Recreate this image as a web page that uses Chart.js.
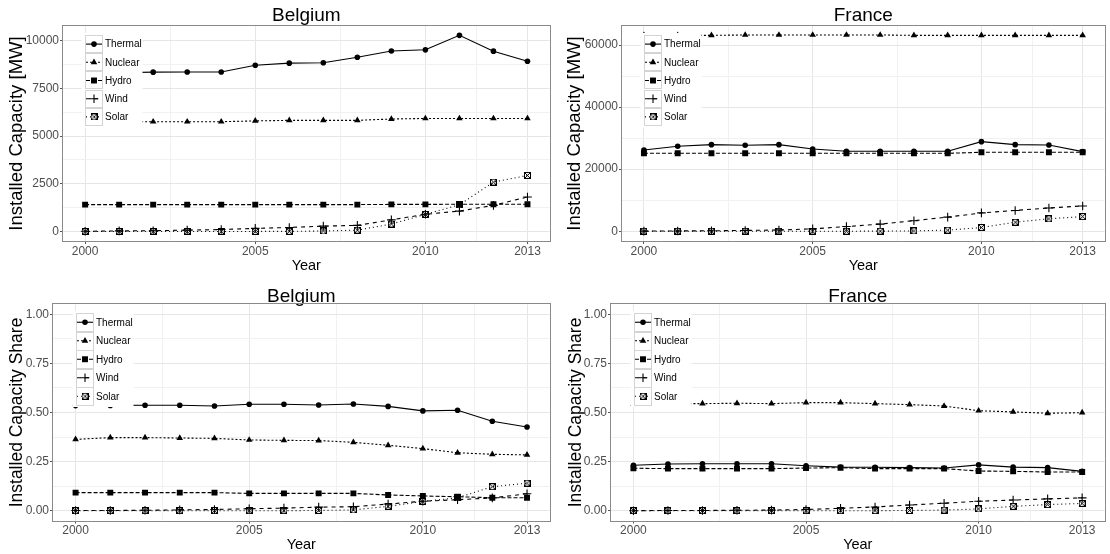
<!DOCTYPE html>
<html>
<head>
<meta charset="utf-8">
<script src="https://cdn.jsdelivr.net/npm/chart.js@4.4.1/dist/chart.umd.min.js"></script>
<style>
  html, body { margin: 0; padding: 0; background: #ffffff; }
  #wrap { position: relative; width: 1110px; height: 554px; overflow: hidden; background: #ffffff; }
  #wrap canvas { position: absolute; }
</style>
</head>
<body>
<div id="wrap">
  <canvas id="beCap" width="555" height="277" style="left:0px;top:0px"></canvas>
  <canvas id="frCap" width="555" height="277" style="left:555px;top:0px"></canvas>
  <canvas id="beShare" width="555" height="277" style="left:0px;top:277px"></canvas>
  <canvas id="frShare" width="555" height="277" style="left:555px;top:277px"></canvas>
</div>
<script>
// ---- data -------------------------------------------------------------
const years = [2000, 2001, 2002, 2003, 2004, 2005, 2006, 2007, 2008, 2009, 2010, 2011, 2012, 2013];
const sources = ['Thermal', 'Nuclear', 'Hydro', 'Wind', 'Solar'];

const yearTicks = [2000, 2005, 2010, 2013];
const yearMinorTicks = [2002.5, 2007.5, 2011.5];

// Belgium, installed capacity [MW]
const beThermal = [8300, 8330, 8360, 8370, 8370, 8720, 8830, 8850, 9140, 9470, 9530, 10290, 9460, 8930];
const beNuclear = [5760, 5760, 5760, 5760, 5760, 5800, 5830, 5830, 5830, 5900, 5930, 5930, 5930, 5930];
const beHydro   = [1410, 1410, 1410, 1410, 1410, 1410, 1410, 1410, 1410, 1420, 1420, 1430, 1430, 1430];
const beWind    = [10, 30, 40, 70, 100, 160, 210, 280, 320, 610, 900, 1070, 1370, 1810];
const beSolar   = [0, 0, 0, 0, 0, 2, 5, 25, 70, 390, 900, 1400, 2590, 2940];

// France, installed capacity [MW]
const frThermal = [26190, 27370, 27900, 27690, 27900, 26510, 25760, 25760, 25760, 25760, 28870, 27900, 27800, 25650];
const frNuclear = [63130, 63130, 63130, 63260, 63260, 63260, 63260, 63260, 63130, 63130, 63130, 63130, 63130, 63130];
const frHydro   = [25110, 25110, 25110, 25110, 25110, 25110, 25110, 25110, 25110, 25110, 25440, 25440, 25440, 25440];
const frWind    = [40, 90, 150, 250, 390, 760, 1500, 2300, 3400, 4550, 5900, 6700, 7500, 8150];
const frSolar   = [0, 0, 0, 0, 0, 0, 10, 30, 100, 350, 1200, 2900, 4000, 4720];

// Belgium, share of installed capacity
const beThermalShare = [0.535, 0.536, 0.537, 0.537, 0.533, 0.542, 0.542, 0.538, 0.543, 0.531, 0.508, 0.511, 0.455, 0.426];
const beNuclearShare = [0.363, 0.372, 0.372, 0.370, 0.368, 0.360, 0.358, 0.357, 0.348, 0.333, 0.316, 0.295, 0.287, 0.284];
const beHydroShare   = [0.092, 0.092, 0.092, 0.092, 0.092, 0.088, 0.088, 0.088, 0.088, 0.080, 0.075, 0.071, 0.066, 0.066];
const beWindShare    = [0.001, 0.001, 0.002, 0.004, 0.006, 0.010, 0.013, 0.018, 0.020, 0.034, 0.048, 0.056, 0.065, 0.086];
const beSolarShare   = [0, 0, 0, 0, 0, 0, 0, 0.001, 0.004, 0.022, 0.047, 0.066, 0.122, 0.140];

// France, share of installed capacity
const frThermalShare = [0.231, 0.238, 0.239, 0.239, 0.239, 0.229, 0.222, 0.221, 0.219, 0.217, 0.233, 0.222, 0.219, 0.200];
const frNuclearShare = [0.543, 0.545, 0.545, 0.547, 0.545, 0.550, 0.550, 0.545, 0.540, 0.533, 0.509, 0.503, 0.496, 0.499];
const frHydroShare   = [0.216, 0.214, 0.214, 0.214, 0.214, 0.217, 0.219, 0.214, 0.214, 0.214, 0.202, 0.200, 0.197, 0.197];
const frWindShare    = [0.000, 0.001, 0.001, 0.002, 0.003, 0.006, 0.012, 0.019, 0.029, 0.038, 0.048, 0.054, 0.060, 0.065];
const frSolarShare   = [0, 0, 0, 0, 0, 0, 0, 0, 0.001, 0.003, 0.009, 0.022, 0.031, 0.037];

// axis breaks
const beCapTicks = [0, 2500, 5000, 7500, 10000];
const beCapMinorTicks = [1250, 3750, 6250, 8750];
const frCapTicks = [0, 20000, 40000, 60000];
const frCapMinorTicks = [10000, 30000, 50000];
const shareTicks = [0, 0.25, 0.5, 0.75, 1];
const shareMinorTicks = [0.125, 0.375, 0.625, 0.875];

// ---- styling ----------------------------------------------------------
const FONT = "'Liberation Sans', Arial, Helvetica, sans-serif";
Chart.defaults.font.family = FONT;

const lineDash = [[], [2, 2], [4, 2], [4, 4], [1, 3]];

function boxCross(size) {
  const c = document.createElement('canvas');
  c.width = size; c.height = size;
  const g = c.getContext('2d');
  g.strokeStyle = '#000';
  g.lineWidth = 1;
  g.strokeRect(0.5, 0.5, size - 1, size - 1);
  g.beginPath();
  g.moveTo(0.5, 0.5); g.lineTo(size - 0.5, size - 0.5);
  g.moveTo(size - 0.5, 0.5); g.lineTo(0.5, size - 0.5);
  g.stroke();
  return c;
}
const solarMark = boxCross(7);
const markerStyle = ['circle', 'triangle', 'rect', 'cross', solarMark];
const markerRadius = [2.8, 3.8, 4.2, 4.3, 3.5];
const markerBorder = [0, 0, 0, 1.1, 0];

function drawMarker(ctx, i, x, y) {
  const r = markerRadius[i];
  ctx.save();
  ctx.setLineDash([]);
  ctx.fillStyle = '#000';
  ctx.strokeStyle = '#000';
  ctx.lineWidth = 1.1;
  ctx.beginPath();
  if (i === 0) {
    ctx.arc(x, y, r, 0, Math.PI * 2);
    ctx.fill();
  } else if (i === 1) {
    for (let k = 0; k < 3; k++) {
      const a = k * 2 * Math.PI / 3;
      const px = x + Math.sin(a) * r, py = y - Math.cos(a) * r;
      if (k === 0) ctx.moveTo(px, py); else ctx.lineTo(px, py);
    }
    ctx.closePath();
    ctx.fill();
  } else if (i === 2) {
    const s = r * Math.SQRT1_2;
    ctx.rect(x - s, y - s, 2 * s, 2 * s);
    ctx.fill();
  } else if (i === 3) {
    ctx.moveTo(x - r, y); ctx.lineTo(x + r, y);
    ctx.moveTo(x, y - r); ctx.lineTo(x, y + r);
    ctx.stroke();
  } else {
    ctx.drawImage(solarMark, x - solarMark.width / 2, y - solarMark.height / 2);
  }
  ctx.restore();
}

// in-panel legend box plus the panel frame
const panelDecor = {
  id: 'panelDecor',
  afterDatasetsDraw(chart, args, opts) {
    const ctx = chart.ctx;
    const a = chart.chartArea;
    const kx = Math.round(a.left + 0.046 * (a.right - a.left));
    const ky = Math.round(a.top + 9);
    const rowH = opts.rowH, keyW = 18;
    ctx.save();
    ctx.fillStyle = '#ffffff';
    ctx.fillRect(kx - 3.5, ky - 2, 61, 5 * rowH + 3.5);
    ctx.font = '10px ' + FONT;
    ctx.textBaseline = 'middle';
    ctx.textAlign = 'left';
    sources.forEach((name, i) => {
      const y0 = ky + i * rowH;
      const cy = y0 + rowH / 2;
      ctx.strokeStyle = '#d4d4d4';
      ctx.lineWidth = 1;
      ctx.setLineDash([]);
      ctx.strokeRect(kx + 0.5, Math.round(y0) + 0.5, keyW - 1, Math.round(rowH) - 1);
      ctx.strokeStyle = '#000';
      ctx.lineWidth = 1.1;
      ctx.setLineDash(lineDash[i]);
      ctx.beginPath();
      ctx.moveTo(kx + 1, cy);
      ctx.lineTo(kx + keyW - 1, cy);
      ctx.stroke();
      drawMarker(ctx, i, kx + keyW / 2, cy);
      ctx.fillStyle = '#000';
      ctx.fillText(name, kx + keyW + 2, cy + 0.5);
    });
    ctx.setLineDash([]);
    ctx.strokeStyle = '#8a8a8a';
    ctx.lineWidth = 1;
    ctx.strokeRect(Math.round(a.left) - 0.5, Math.round(a.top) - 0.5,
                   Math.round(a.right) - Math.round(a.left) + 1, Math.round(a.bottom) - Math.round(a.top) + 1);
    ctx.restore();
  }
};

function gridOpts(minor) {
  const isMinor = (c) => c.tick && minor.some(m => Math.abs(m - c.tick.value) < 1e-9);
  return {
    color: (c) => isMinor(c) ? '#f1f1f1' : '#e6e6e6',
    lineWidth: 1,
    tickLength: 3,
    tickColor: (c) => isMinor(c) ? 'rgba(0,0,0,0)' : '#555555',
    drawTicks: true
  };
}

function makePanel(p) {
  const series = p.series;
  const datasets = sources.map((name, i) => ({
    label: name,
    data: years.map((yr, j) => ({ x: yr, y: series[i][j] })),
    borderColor: '#000',
    backgroundColor: '#000',
    borderWidth: 1.1,
    borderDash: lineDash[i],
    pointStyle: markerStyle[i],
    pointRadius: markerRadius[i],
    pointBorderWidth: markerBorder[i],
    pointBackgroundColor: '#000',
    pointBorderColor: '#000',
    tension: 0,
    fill: false
  }));
  const xAll = yearTicks.concat(yearMinorTicks).sort((a, b) => a - b);
  const yAll = p.yTicks.concat(p.yMinor).sort((a, b) => a - b);
  return new Chart(document.getElementById(p.id), {
    type: 'line',
    data: { datasets },
    options: {
      responsive: false,
      animation: false,
      devicePixelRatio: 1,
      events: [],
      layout: { padding: { left: 0, right: p.padRight, top: 0, bottom: 0 } },
      plugins: {
        legend: { display: false },
        tooltip: { enabled: false },
        panelDecor: { rowH: p.legendRowH },
        title: {
          display: true,
          fullSize: false,
          text: p.title,
          color: '#000',
          font: { size: 19, weight: 'normal', lineHeight: p.titleLH },
          padding: p.titlePad
        }
      },
      scales: {
        x: {
          type: 'linear',
          min: 1999.35,
          max: 2013.65,
          afterBuildTicks: (s) => { s.ticks = xAll.map(v => ({ value: v })); },
          afterFit: (s) => { s.height = p.xAxisH; },
          ticks: {
            autoSkip: false,
            maxRotation: 0,
            padding: 1.5,
            color: '#4d4d4d',
            font: { size: 12, lineHeight: 1 },
            callback: (v) => yearTicks.includes(v) ? String(v) : ''
          },
          grid: gridOpts(yearMinorTicks),
          border: { display: false },
          title: {
            display: true,
            text: 'Year',
            color: '#000',
            font: { size: 14.5, lineHeight: 1.2 },
            padding: { top: 0, bottom: p.xTitlePad }
          }
        },
        y: {
          type: 'linear',
          min: p.yMin,
          max: p.yMax,
          afterBuildTicks: (s) => { s.ticks = yAll.map(v => ({ value: v })); },
          afterFit: (s) => { s.width = p.yAxisW; },
          ticks: {
            autoSkip: false,
            padding: 1,
            color: '#4d4d4d',
            font: { size: 12, lineHeight: 1 },
            callback: (v) => p.yTicks.some(t => Math.abs(t - v) < 1e-9) ? p.fmt(v) : ''
          },
          grid: gridOpts(p.yMinor),
          border: { display: false },
          title: {
            display: true,
            text: p.yTitle,
            color: '#000',
            font: { size: p.yTitleSize, lineHeight: 1.2 },
            padding: { top: p.yTitlePad, bottom: 0 }
          }
        }
      }
    },
    plugins: [panelDecor]
  });
}

const intFmt = (v) => String(Math.round(v));
const shareFmt = (v) => v.toFixed(2);

makePanel({
  id: 'beCap', title: 'Belgium', yTitle: 'Installed Capacity [MW]',
  series: [beThermal, beNuclear, beHydro, beWind, beSolar],
  yMin: -500, yMax: 10780, yTicks: beCapTicks, yMinor: beCapMinorTicks, fmt: intFmt,
  yAxisW: 63, padRight: 4, xAxisH: 36, titleLH: 1, titlePad: { top: 6.5, bottom: 0.5 },
  xTitlePad: 2.5, yTitleSize: 18.5, yTitlePad: 5.9, legendRowH: 18.2
});
makePanel({
  id: 'frCap', title: 'France', yTitle: 'Installed Capacity [MW]',
  series: [frThermal, frNuclear, frHydro, frWind, frSolar],
  yMin: -3150, yMax: 66150, yTicks: frCapTicks, yMinor: frCapMinorTicks, fmt: intFmt,
  yAxisW: 67, padRight: 1, xAxisH: 36, titleLH: 1, titlePad: { top: 6.5, bottom: 0.5 },
  xTitlePad: 2.5, yTitleSize: 18.5, yTitlePad: 9.2, legendRowH: 18.2
});
makePanel({
  id: 'beShare', title: 'Belgium', yTitle: 'Installed Capacity Share',
  series: [beThermalShare, beNuclearShare, beHydroShare, beWindShare, beSolarShare],
  yMin: -0.05, yMax: 1.05, yTicks: shareTicks, yMinor: shareMinorTicks, fmt: shareFmt,
  yAxisW: 53, padRight: 4, xAxisH: 33.5, titleLH: 0.85, titlePad: { top: 11.3, bottom: 0 },
  xTitlePad: 0, yTitleSize: 17.5, yTitlePad: 6.5, legendRowH: 18.5
});
makePanel({
  id: 'frShare', title: 'France', yTitle: 'Installed Capacity Share',
  series: [frThermalShare, frNuclearShare, frHydroShare, frWindShare, frSolarShare],
  yMin: -0.05, yMax: 1.05, yTicks: shareTicks, yMinor: shareMinorTicks, fmt: shareFmt,
  yAxisW: 56, padRight: 1, xAxisH: 33.5, titleLH: 0.85, titlePad: { top: 11.3, bottom: 0 },
  xTitlePad: 0, yTitleSize: 17.5, yTitlePad: 10.5, legendRowH: 18.5
});
</script>
</body>
</html>
